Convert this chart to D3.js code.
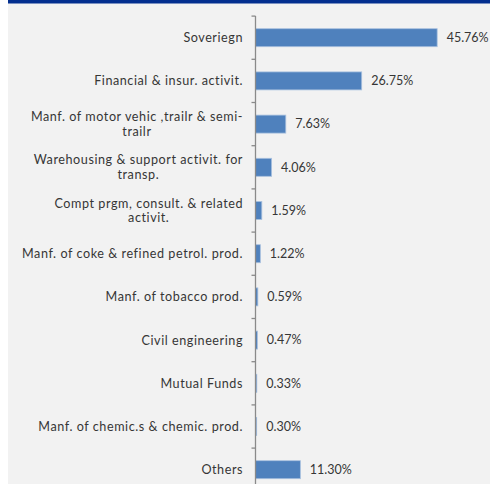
<!DOCTYPE html>
<html>
<head>
<meta charset="utf-8">
<script src="https://cdn.jsdelivr.net/npm/d3@7"></script>
<style>
  html, body { margin: 0; padding: 0; background: #ffffff; }
  svg { display: block; }
</style>
</head>
<body>
<svg id="chart" width="490" height="484"></svg>
<script>
// Sector exposure, % of portfolio
const categories = [
  "Soveriegn",
  "Financial & insur. activit.",
  "Manf. of motor vehic ,trailr & semi-\ntrailr",
  "Warehousing & support activit. for\ntransp.",
  "Compt prgm, consult. & related\nactivit.",
  "Manf. of coke & refined petrol. prod.",
  "Manf. of tobacco prod.",
  "Civil engineering",
  "Mutual Funds",
  "Manf. of chemic.s & chemic. prod.",
  "Others"
];
const values = [45.76, 26.75, 7.63, 4.06, 1.59, 1.22, 0.59, 0.47, 0.33, 0.30, 11.30];
const valueLabels = ["45.76%", "26.75%", "7.63%", "4.06%", "1.59%", "1.22%", "0.59%", "0.47%", "0.33%", "0.30%", "11.30%"];

const svg = d3.select("#chart");
const W = 490, H = 484;
const font = "Lato, 'Noto Sans', sans-serif";
const textColor = "#363636";

// panel background and header strip
svg.append("rect").attr("x", 8).attr("y", 0).attr("width", W - 8).attr("height", H).attr("fill", "#f2f2f2");
svg.append("rect").attr("x", 8).attr("y", 0).attr("width", W - 8).attr("height", 3.5).attr("fill", "#032f8f");

const axisX = 255.5;
const band = d3.scaleBand().domain(d3.range(categories.length)).range([16.1, 16.1 + 43.2 * categories.length]);
const x = d3.scaleLinear().domain([0, 50]).range([axisX, 454]);

// bars
svg.append("g").selectAll("rect").data(values).join("rect")
  .attr("x", axisX)
  .attr("y", (d, i) => band(i) + band.bandwidth() / 2 - 9)
  .attr("width", d => x(d) - axisX)
  .attr("height", 18)
  .attr("fill", "#4f81bd")
  .attr("stroke", "#a9c1df")
  .attr("stroke-width", 0.8);

// category axis line and ticks at band boundaries
const axis = svg.append("g").attr("stroke", "#8a8a8a").attr("stroke-width", 1.3);
axis.append("line").attr("x1", axisX).attr("x2", axisX).attr("y1", band.range()[0]).attr("y2", band.range()[1]);
axis.selectAll("line.tick").data(d3.range(categories.length + 1)).join("line").attr("class", "tick")
  .attr("x1", axisX - 4).attr("x2", axisX)
  .attr("y1", i => band.range()[0] + i * band.step())
  .attr("y2", i => band.range()[0] + i * band.step());

// category labels, right-aligned block with centred wrapped lines
const labelRight = 243;
const lineGap = 14.8;
categories.forEach((c, i) => {
  const lines = c.split("\n");
  const cy = band(i) + band.step() / 2;
  const g = svg.append("g");
  const texts = lines.map((ln, k) => g.append("text")
    .attr("y", cy + (k - (lines.length - 1) / 2) * lineGap)
    .attr("dy", "0.35em")
    .attr("font-family", font).attr("font-size", 12.6).attr("letter-spacing", 0.56)
    .attr("fill", textColor)
    .text(ln));
  const widths = texts.map(t => t.node().getComputedTextLength());
  const maxW = d3.max(widths);
  texts.forEach(t => t.attr("x", labelRight - maxW / 2).attr("text-anchor", "middle"));
});

// value labels
svg.append("g").selectAll("text").data(values).join("text")
  .attr("x", d => x(d) + 9.5)
  .attr("y", (d, i) => band(i) + band.step() / 2)
  .attr("dy", "0.35em")
  .attr("font-family", font).attr("font-size", 12.5).attr("fill", textColor)
  .text((d, i) => valueLabels[i]);
</script>
</body>
</html>
